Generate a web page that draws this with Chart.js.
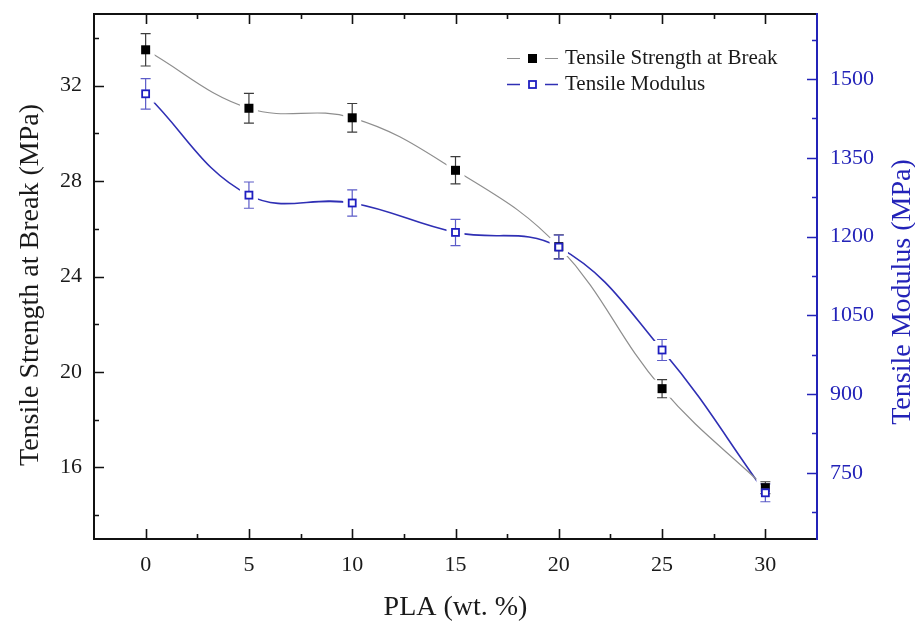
<!DOCTYPE html>
<html><head><meta charset="utf-8">
<script src="https://cdn.jsdelivr.net/npm/chart.js@4.4.0/dist/chart.umd.min.js"></script>
<style>html,body{margin:0;padding:0;background:#fff;}#wrap{width:915px;height:621px;}</style>
</head><body><div id="wrap"><canvas id="c" width="915" height="621"></canvas></div>
<script>
// ---- data ----
const plaContent = [0, 5, 10, 15, 20, 25, 30];
const strength = [33.5, 31.05, 30.65, 28.45, 25.25, 19.3, 15.15];
const strengthErr = [0.68, 0.62, 0.6, 0.57, 0.5, 0.38, 0.25];
const modulus = [1472, 1279, 1264, 1208, 1180, 984, 712];
const modulusErr = [29, 25, 25, 25, 23, 20, 17];
const xTicks = [0, 5, 10, 15, 20, 25, 30];
const xMinorTicks = [2.5, 7.5, 12.5, 17.5, 22.5, 27.5];
const leftTicks = [16, 20, 24, 28, 32];
const leftMinorTicks = [14, 18, 22, 26, 30, 34];
const rightTicks = [750, 900, 1050, 1200, 1350, 1500];
const rightMinorTicks = [675, 825, 975, 1125, 1275, 1425, 1575];
const seriesLabels = ['Tensile Strength at Break', 'Tensile Modulus'];
const xTitle = 'PLA (wt. %)';
const leftTitle = 'Tensile Strength at Break (MPa)';
const rightTitle = 'Tensile Modulus (MPa)';

const FONT = '"Liberation Serif", "Times New Roman", serif';
const BLUE = '#2323b8';
const BLUE_LINE = '#2f2fb4';
const GRAY_LINE = '#8e8e8e';

const overlay = {
  id: 'overlay',
  afterDatasetsDraw(chart) {
    const {ctx, chartArea: a, scales: {x, y, y2}} = chart;
    const series = [
      {vals: strength, err: strengthErr, sc: y, errColor: '#3c3c3c', filled: true},
      {vals: modulus, err: modulusErr, sc: y2, errColor: '#5c5cc8', filled: false}
    ];
    ctx.save();
    // halos (gaps of the line around markers)
    ctx.fillStyle = '#fff';
    series.forEach(s => plaContent.forEach((xv, i) => {
      const px = x.getPixelForValue(xv), py = s.sc.getPixelForValue(s.vals[i]);
      ctx.fillRect(px - 9, py - 9, 18, 18);
    }));
    // error bars
    series.forEach(s => plaContent.forEach((xv, i) => {
      const px = x.getPixelForValue(xv);
      const t = s.sc.getPixelForValue(s.vals[i] + s.err[i]);
      const b = s.sc.getPixelForValue(s.vals[i] - s.err[i]);
      ctx.strokeStyle = s.errColor; ctx.lineWidth = 1.2;
      ctx.beginPath();
      ctx.moveTo(px, t); ctx.lineTo(px, b);
      ctx.moveTo(px - 5, t); ctx.lineTo(px + 5, t);
      ctx.moveTo(px - 5, b); ctx.lineTo(px + 5, b);
      ctx.stroke();
    }));
    // markers
    series.forEach(s => plaContent.forEach((xv, i) => {
      const px = x.getPixelForValue(xv), py = s.sc.getPixelForValue(s.vals[i]);
      drawMarker(ctx, px, py, s.filled);
    }));

    // axes frame
    ctx.lineWidth = 2;
    ctx.strokeStyle = '#111';
    ctx.beginPath();
    ctx.moveTo(a.right, a.top); ctx.lineTo(a.left, a.top); ctx.lineTo(a.left, a.bottom); ctx.lineTo(a.right, a.bottom);
    ctx.stroke();
    ctx.strokeStyle = BLUE;
    ctx.beginPath(); ctx.moveTo(a.right, a.top - 1); ctx.lineTo(a.right, a.bottom + 1); ctx.stroke();

    // ticks (inward)
    ctx.lineWidth = 1.6;
    ctx.strokeStyle = '#111';
    ctx.beginPath();
    const xt = (vals, len) => vals.forEach(v => {
      const px = Math.round(x.getPixelForValue(v)) + 0.5;
      ctx.moveTo(px, a.bottom); ctx.lineTo(px, a.bottom - len);
      ctx.moveTo(px, a.top); ctx.lineTo(px, a.top + len);
    });
    xt(xTicks, 10); xt(xMinorTicks, 5);
    const yt = (vals, len) => vals.forEach(v => {
      const py = Math.round(y.getPixelForValue(v)) + 0.5;
      ctx.moveTo(a.left, py); ctx.lineTo(a.left + len, py);
    });
    yt(leftTicks, 10); yt(leftMinorTicks, 5);
    ctx.stroke();
    ctx.strokeStyle = BLUE;
    ctx.beginPath();
    const rt = (vals, len) => vals.forEach(v => {
      const py = Math.round(y2.getPixelForValue(v)) + 0.5;
      ctx.moveTo(a.right, py); ctx.lineTo(a.right - len, py);
    });
    rt(rightTicks, 10); rt(rightMinorTicks, 5);
    ctx.stroke();

    // legend
    const lx = 507, rows = [58.5, 84.5];
    [[GRAY_LINE, 1.2, true], [BLUE_LINE, 1.6, false]].forEach((st, k) => {
      const ly = rows[k];
      ctx.strokeStyle = st[0]; ctx.lineWidth = st[1];
      ctx.beginPath();
      ctx.moveTo(lx, ly); ctx.lineTo(lx + 13, ly);
      ctx.moveTo(lx + 38, ly); ctx.lineTo(lx + 51, ly);
      ctx.stroke();
      drawMarker(ctx, lx + 25.5, ly, st[2]);
      ctx.fillStyle = '#1a1a1a';
      ctx.font = '21px ' + FONT;
      ctx.textAlign = 'left'; ctx.textBaseline = 'middle';
      ctx.fillText(seriesLabels[k], 565, ly);
    });

    // titles
    ctx.font = '28px ' + FONT;
    ctx.textAlign = 'center'; ctx.textBaseline = 'alphabetic';
    ctx.fillStyle = '#1a1a1a';
    ctx.fillText(xTitle, (a.left + a.right) / 2, 615);
    ctx.save(); ctx.translate(38, 285); ctx.rotate(-Math.PI / 2); ctx.fillText(leftTitle, 0, 0); ctx.restore();
    ctx.fillStyle = BLUE;
    ctx.save(); ctx.translate(910, 292); ctx.rotate(-Math.PI / 2); ctx.fillText(rightTitle, 0, 0); ctx.restore();
    ctx.restore();
  }
};

function drawMarker(ctx, px, py, filled) {
  if (filled) {
    ctx.fillStyle = '#000';
    ctx.fillRect(px - 4.5, py - 4.5, 9, 9);
  } else {
    ctx.fillStyle = '#fff';
    ctx.fillRect(px - 4, py - 4, 8, 8);
    ctx.strokeStyle = '#1e1ec0'; ctx.lineWidth = 1.8;
    ctx.strokeRect(px - 3.5, py - 3.5, 7, 7);
  }
}

function fixV(w) { return s => { s.width = w; s.paddingTop = 0; s.paddingBottom = 0; }; }

const tickFont = {family: FONT, size: 22};
new Chart(document.getElementById('c').getContext('2d'), {
  type: 'line',
  data: {
    datasets: [
      {label: seriesLabels[0], data: plaContent.map((xv, i) => ({x: xv, y: strength[i]})), yAxisID: 'y',
       borderColor: GRAY_LINE, borderWidth: 1.2, pointRadius: 0, tension: 0.4, fill: false},
      {label: seriesLabels[1], data: plaContent.map((xv, i) => ({x: xv, y: modulus[i]})), yAxisID: 'y2',
       borderColor: BLUE_LINE, borderWidth: 1.6, pointRadius: 0, tension: 0.4, fill: false}
    ]
  },
  options: {
    responsive: false, animation: false,
    layout: {padding: {top: 14, left: 0, right: 0, bottom: 0}},
    plugins: {legend: {display: false}, tooltip: {enabled: false}},
    scales: {
      x: {type: 'linear', min: -2.5, max: 32.5,
        grid: {display: false, drawTicks: false}, border: {display: false},
        afterBuildTicks: s => { s.ticks = xTicks.map(v => ({value: v})); },
        afterFit: s => { s.height = 82; s.paddingLeft = 0; s.paddingRight = 0; },
        ticks: {padding: 13, font: tickFont, color: '#1a1a1a', maxRotation: 0, autoSkip: false, callback: v => String(v)}},
      y: {type: 'linear', position: 'left', min: 13, max: 35,
        grid: {display: false, drawTicks: false}, border: {display: false},
        afterBuildTicks: s => { s.ticks = leftTicks.map(v => ({value: v})); },
        afterFit: fixV(94),
        ticks: {padding: 12, font: tickFont, color: '#1a1a1a', autoSkip: false, callback: v => String(v)}},
      y2: {type: 'linear', position: 'right', min: 624, max: 1624,
        grid: {display: false, drawTicks: false}, border: {display: false},
        afterBuildTicks: s => { s.ticks = rightTicks.map(v => ({value: v})); },
        afterFit: fixV(98),
        ticks: {padding: 13, font: tickFont, color: BLUE, autoSkip: false, callback: v => String(v)}}
    }
  },
  plugins: [overlay]
});
</script></body></html>
